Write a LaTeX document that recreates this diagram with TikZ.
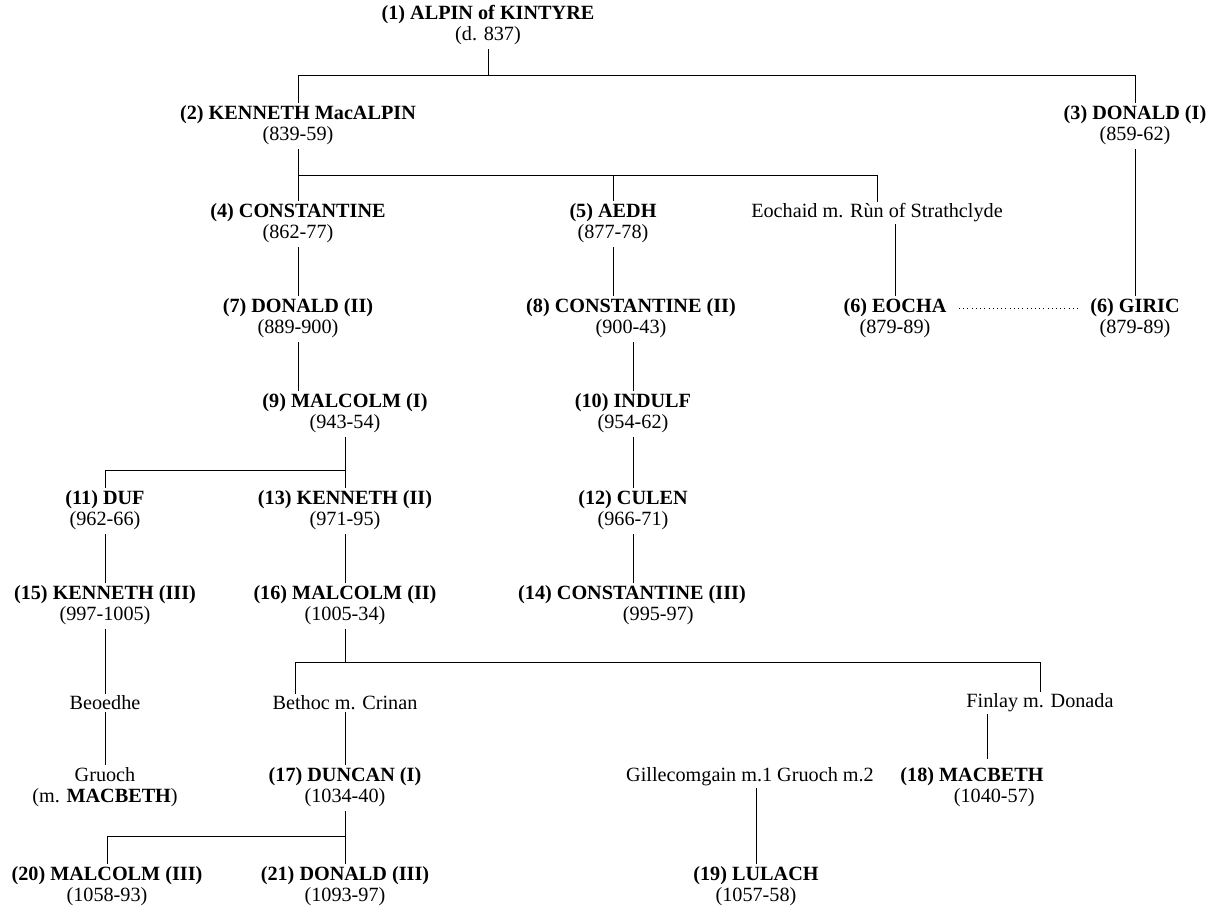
\documentclass[tikz,border=0pt]{standalone}
\usepackage{fontspec}
\setmainfont{Liberation Serif}

\begin{document}
\begin{tikzpicture}[pers/.style={rectangle,inner sep=1pt,font=\fontsize{11.5}{12}\selectfont}]
\useasboundingbox (0,0) rectangle (24.38,18.18);
\begin{scope}
\node (ALP) at (9.76,17.66) [pers] {\begin{tabular}{c}\textbf{(1) ALPIN of KINTYRE}\\ (d. 837)\end{tabular} };
\node (KEN1) at (5.96,15.66) [pers] {\begin{tabular}{c}\textbf{(2) KENNETH MacALPIN}\\ (839-59)\end{tabular} };
\node (DON1) at (22.70,15.66) [pers] {\begin{tabular}{c}\textbf{(3) DONALD (I)}\\ (859-62)\end{tabular} };
\node (CON1) at (5.96,13.70) [pers] {\begin{tabular}{c}\textbf{(4) CONSTANTINE}\\ (862-77)\end{tabular} };
\node (AEDH) at (12.26,13.70) [pers] {\begin{tabular}{c}\textbf{(5) AEDH}\\ (877-78)\end{tabular} };
\node (EOCD) at (17.54,13.92) [pers] {Eochaid m. Rùn of Strathclyde};
\node (DON2) at (5.96,11.80) [pers] {\begin{tabular}{c}\textbf{(7) DONALD (II)}\\ (889-900)\end{tabular} };
\node (CON2) at (12.62,11.80) [pers] {\begin{tabular}{c}\textbf{(8) CONSTANTINE (II)}\\ (900-43)\end{tabular} };
\node (EOC) at (17.90,11.80) [pers] {\begin{tabular}{c}\textbf{(6) EOCHA}\\ (879-89)\end{tabular} };
\node (GIR) at (22.70,11.80) [pers] {\begin{tabular}{c}\textbf{(6) GIRIC}\\ (879-89)\end{tabular} };
\node (MAL1) at (6.90,9.90) [pers] {\begin{tabular}{c}\textbf{(9) MALCOLM (I)}\\ (943-54)\end{tabular} };
\node (IND) at (12.66,9.90) [pers] {\begin{tabular}{c}\textbf{(10) INDULF}\\ (954-62)\end{tabular} };
\node (DUF) at (2.10,7.96) [pers] {\begin{tabular}{c}\textbf{(11) DUF}\\ (962-66)\end{tabular} };
\node (KEN2) at (6.90,7.96) [pers] {\begin{tabular}{c}\textbf{(13) KENNETH (II)}\\ (971-95)\end{tabular} };
\node (CUL) at (12.66,7.96) [pers] {\begin{tabular}{c}\textbf{(12) CULEN}\\ (966-71)\end{tabular} };
\node (KEN3) at (2.10,6.06) [pers] {\begin{tabular}{c}\textbf{(15) KENNETH (III)}\\ (997-1005)\end{tabular} };
\node (MAL2) at (6.90,6.06) [pers] {\begin{tabular}{c}\textbf{(16) MALCOLM (II)}\\ (1005-34)\end{tabular} };
\node (CON3) at (12.64,6.06) [pers] {\begin{tabular}{c}\textbf{(14) CONSTANTINE (III)}\\ \hspace*{2.6em}(995-97)\end{tabular} };
\node (BEO) at (2.10,4.12) [pers] {Beoedhe};
\node (BET) at (6.90,4.12) [pers] {Bethoc m. Crinan};
\node (FIN) at (20.80,4.12) [pers] {Finlay m. Donada};
\node (GRU) at (2.10,2.42) [pers] {\begin{tabular}{c}Gruoch\\ (m. \textbf{MACBETH})\end{tabular} };
\node (DUN) at (6.90,2.42) [pers] {\begin{tabular}{c}\textbf{(17) DUNCAN (I)}\\ (1034-40)\end{tabular} };
\node (GIL) at (15.00,2.64) [pers] {Gillecomgain m.1 Gruoch m.2};
\node (MACB) at (19.44,2.42) [pers] {\begin{tabular}{c}\textbf{(18) MACBETH}\\ \hspace*{2.2em}(1040-57)\end{tabular} };
\node (MAL3) at (2.14,0.44) [pers] {\begin{tabular}{c}\textbf{(20) MALCOLM (III)}\\ (1058-93)\end{tabular} };
\node (DON3) at (6.90,0.44) [pers] {\begin{tabular}{c}\textbf{(21) DONALD (III)}\\ (1093-97)\end{tabular} };
\node (LUL) at (15.12,0.44) [pers] {\begin{tabular}{c}\textbf{(19) LULACH}\\ (1057-58)\end{tabular} };
% bars
\coordinate (J1) at (9.76,16.68);
\coordinate (J2) at (5.96,14.68);
\coordinate (J3) at (6.90,8.78);
\coordinate (J4) at (6.90,4.94);
\coordinate (J4L) at (5.90,4.94);
\coordinate (J5) at (6.90,1.46);
\coordinate (MB) at (19.74,3.00);
\draw (ALP) -- (J1);
\draw (J1) -| (KEN1);
\draw (J1) -| (DON1);
\draw (KEN1) -- (J2);
\draw (J2) -- (CON1);
\draw (J2) -| (AEDH);
\draw (J2) -| (EOCD);
\draw (EOCD.south -| EOC) -- (EOC);
\draw (DON1) -- (GIR);
\draw[dotted] ([yshift=6pt]EOC.east) -- ([yshift=6pt]GIR.west);
\draw (CON1) -- (DON2);
\draw (DON2) -- (DON2 |- MAL1.north);
\draw (AEDH) -- (AEDH |- CON2.north);
\draw (CON2.south -| IND) -- (IND);
\draw (IND) -- (CUL);
\draw (CUL) -- (CUL |- CON3.north);
\draw (MAL1) -- (J3);
\draw (J3) -| (DUF);
\draw (J3) -- (KEN2);
\draw (DUF) -- (KEN3);
\draw (KEN3) -- (BEO);
\draw (BEO) -- (GRU);
\draw (KEN2) -- (MAL2);
\draw (MAL2) -- (J4);
\draw (J4) -- (J4L) -- (J4L |- BET.north);
\draw (J4) -| (FIN);
\draw (BET) -- (DUN);
\draw (FIN.south -| MB) -- (MB);
\draw (GIL.south -| LUL) -- (LUL);
\draw (DUN) -- (J5);
\draw (J5) -| (MAL3);
\draw (J5) -- (DON3);
\end{scope}
\end{tikzpicture}
\end{document}
